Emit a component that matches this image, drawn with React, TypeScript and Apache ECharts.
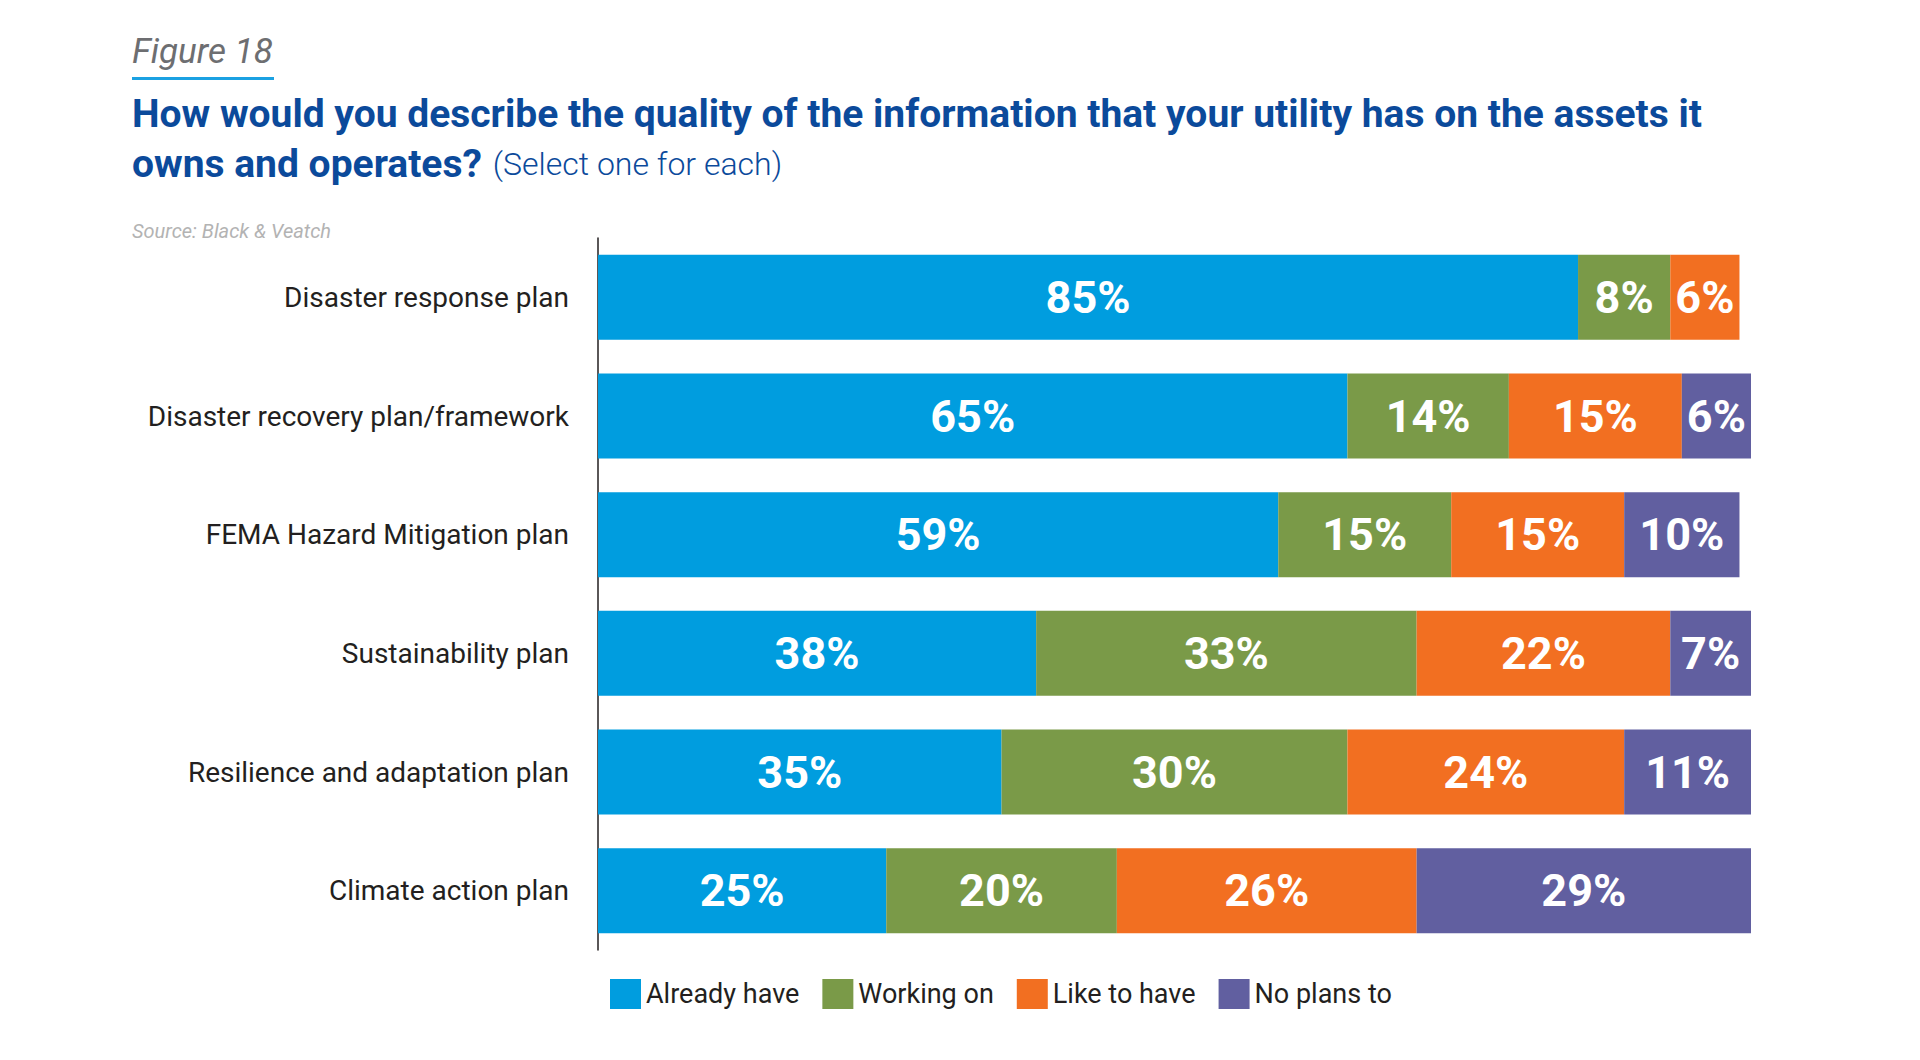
import React, { useEffect, useRef } from "react";
import * as echarts from "echarts";

const categories = [
  "Disaster response plan",
  "Disaster recovery plan/framework",
  "FEMA Hazard Mitigation plan",
  "Sustainability plan",
  "Resilience and adaptation plan",
  "Climate action plan",
];
const alreadyHave = [85, 65, 59, 38, 35, 25];
const workingOn = [8, 14, 15, 33, 30, 20];
const likeToHave = [6, 15, 15, 22, 24, 26];
const noPlansTo = [0, 6, 10, 7, 11, 29];

const seriesNames = ["Already have", "Working on", "Like to have", "No plans to"];
const seriesColors = ["#009ddf", "#7a9a48", "#f26f21", "#615fa0"];

export default function App() {
  const ref = useRef<HTMLDivElement>(null);
  useEffect(() => {
    if (!ref.current) return;
    const chart = echarts.init(ref.current, null, { renderer: "svg" });
    const values = [alreadyHave, workingOn, likeToHave, noPlansTo];
    const font = "Roboto";
    chart.setOption({
      animation: false,
      backgroundColor: "#ffffff",
      textStyle: { fontFamily: font },
      graphic: [
        {
          type: "text",
          left: 132,
          top: 34,
          style: {
            text: "Figure 18",
            font: "italic 400 35px Roboto",
            fill: "#6d6e71",
          },
        },
        {
          type: "rect",
          shape: { x: 132, y: 77, width: 142, height: 3 },
          style: { fill: "#1ba1e2" },
        },
        {
          type: "text",
          left: 132,
          top: 94,
          style: {
            text: "How would you describe the quality of the information that your utility has on the assets it",
            font: "bold 39px Roboto",
            fill: "#0b4a9b",
          },
        },
        {
          type: "text",
          left: 132,
          top: 144,
          style: {
            text: "{b|owns and operates?}{l|(Select one for each)}",
            fill: "#0b4a9b",
            rich: {
              b: { font: "bold 39px Roboto", fill: "#0b4a9b" },
              l: { font: "300 32px Roboto", fill: "#0b4a9b", padding: [0, 0, 0, 11] },
            },
          },
        },
        {
          type: "text",
          left: 132,
          top: 221,
          style: {
            text: "Source: Black & Veatch",
            font: "italic 400 20px Roboto",
            fill: "#b3b3b3",
          },
        },
      ],
      legend: {
        left: 605,
        top: 974,
        icon: "rect",
        itemWidth: 31,
        itemHeight: 30,
        itemGap: 23,
        data: seriesNames,
        textStyle: {
          fontFamily: font,
          fontSize: 27,
          color: "#231f20",
        },
      },
      grid: {
        left: 598,
        width: 1153,
        top: 238,
        height: 712,
        containLabel: false,
      },
      xAxis: {
        type: "value",
        min: 0,
        max: 100,
        show: false,
      },
      yAxis: {
        type: "category",
        data: categories,
        inverse: true,
        axisTick: { show: false },
        axisLine: { show: true, lineStyle: { color: "#231f20", width: 1.5 } },
        axisLabel: {
          fontFamily: font,
          fontSize: 28,
          color: "#231f20",
          margin: 29,
        },
      },
      series: seriesNames.map((name, i) => ({
        name,
        type: "bar",
        stack: "total",
        barWidth: 85,
        data: values[i],
        itemStyle: { color: seriesColors[i] },
        label: {
          show: true,
          position: "inside",
          fontFamily: font,
          fontWeight: "bold",
          fontSize: 45,
          color: "#ffffff",
          formatter: (p: any) => (p.value ? p.value + "%" : ""),
        },
      })),
    });
    return () => chart.dispose();
  }, []);
  return (
    <div
      ref={ref}
      style={{ position: "fixed", left: 0, top: 0, width: 1920, height: 1060 }}
    />
  );
}
